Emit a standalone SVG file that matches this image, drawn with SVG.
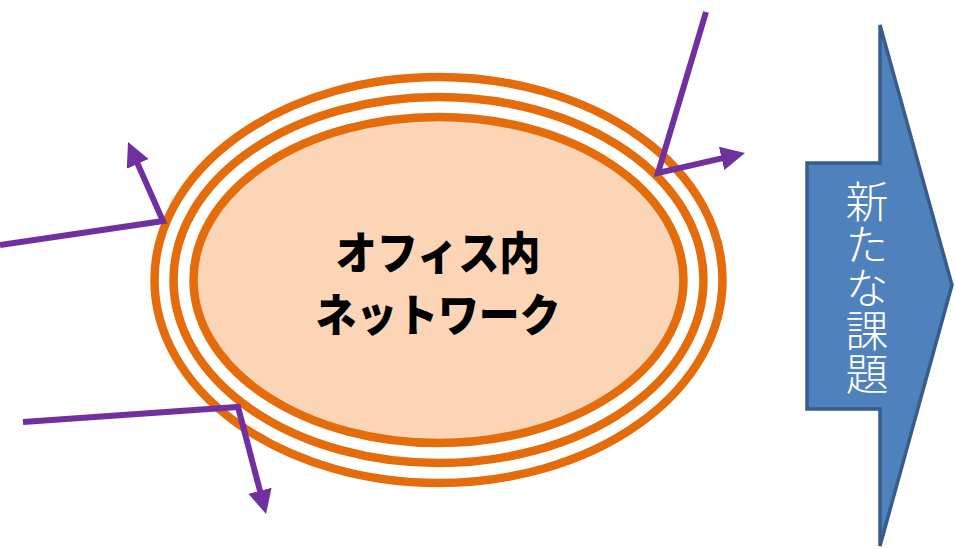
<svg xmlns="http://www.w3.org/2000/svg" width="955" height="549" viewBox="0 0 955 549">
<style>
.ring{stroke:#E46C0A;stroke-width:8.5}
.conn{fill:none;stroke:#7030A0;stroke-width:6;stroke-linejoin:miter;marker-end:url(#ah)}
.lbl{font-family:"Noto Sans CJK JP","Noto Sans",sans-serif;font-weight:900;font-size:45px;fill:#000;text-anchor:middle}
.side{font-family:"Noto Sans CJK JP","Noto Sans",sans-serif;font-weight:300;font-size:43px;fill:#fff;writing-mode:vertical-rl;text-orientation:upright}
</style>
<defs>
<marker id="ah" markerUnits="userSpaceOnUse" viewBox="0 0 24 24" markerWidth="24" markerHeight="24" refX="8" refY="12" orient="auto">
<path d="M0,0 L24,12 L0,24 z" fill="#7030A0"/>
</marker>
</defs>
<rect width="955" height="549" fill="#fff"/>
<g id="network">
<ellipse class="ring" cx="438.5" cy="280" rx="284" ry="203" fill="#fff"/>
<ellipse class="ring" cx="438.5" cy="280" rx="265" ry="183" fill="none"/>
<ellipse class="ring" cx="438.5" cy="280" rx="245" ry="163" fill="#FBD5B5"/>
<text class="lbl" x="438" y="270" textLength="205" lengthAdjust="spacingAndGlyphs">オフィス内</text>
<text class="lbl" x="438" y="332" textLength="245" lengthAdjust="spacingAndGlyphs">ネットワーク</text>
</g>
<g id="connectors">
<polyline class="conn" points="0,245 163,221 134.5,156.6"/>
<polyline class="conn" points="706,12 658,173 729.4,156.6"/>
<polyline class="conn" points="23,422 238,407 262,498.5"/>
</g>
<g id="new-issue">
<path d="M807,163 L880,163 L880,25 L952,285 L880,546 L880,409 L807,409 Z" fill="#4F81BD" stroke="#385D8A" stroke-width="3.5" stroke-linejoin="miter"/>
<text class="side" x="867" y="180">新たな課題</text>
</g>
</svg>
